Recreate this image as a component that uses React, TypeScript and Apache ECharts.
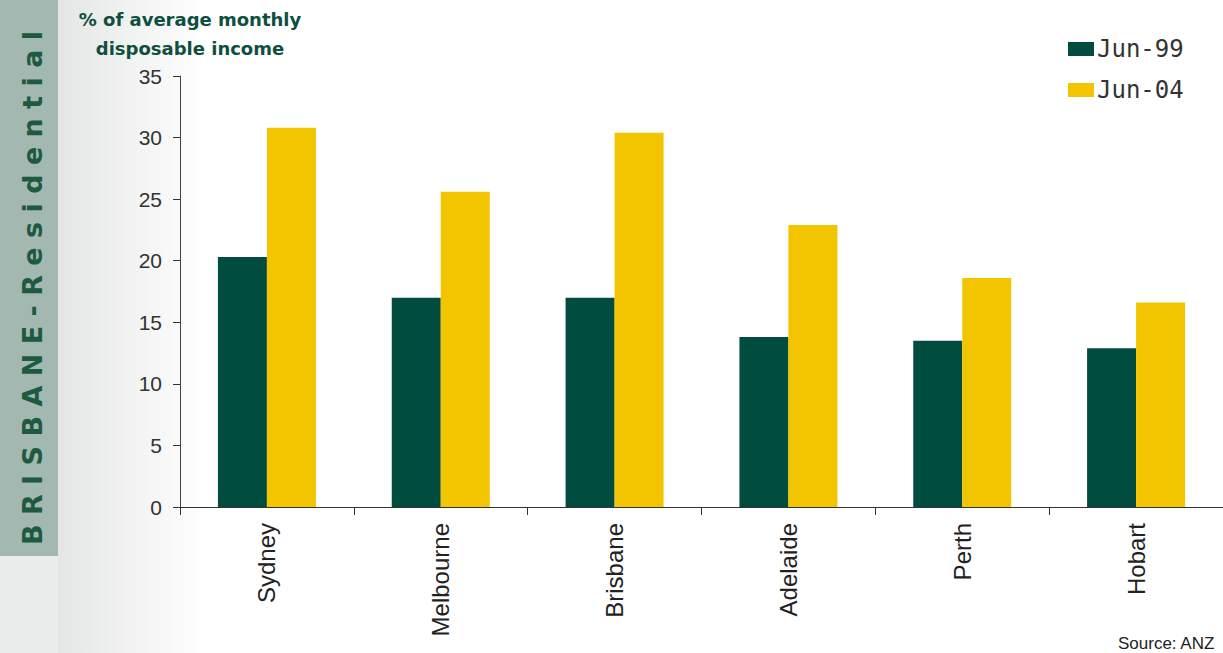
import React, { useEffect, useRef } from "react";
import * as echarts from "echarts";

const cities = ["Sydney", "Melbourne", "Brisbane", "Adelaide", "Perth", "Hobart"];
const jun99 = [20.3, 17.0, 17.0, 13.8, 13.5, 12.9];
const jun04 = [30.8, 25.6, 30.4, 22.9, 18.6, 16.6];
const seriesNames = ["Jun-99", "Jun-04"];
const yTitle = "% of average monthly\ndisposable income";
const sideLabel = "B R I S B A N E - R e s i d e n t i a l";
const sourceText = "Source: ANZ";

export default function App() {
  const ref = useRef<HTMLDivElement>(null);
  useEffect(() => {
    if (!ref.current) return;
    const chart = echarts.init(ref.current, null, { renderer: "svg" });
    const font = "'DejaVu Sans', Verdana, sans-serif";
    const arial = "'Liberation Sans', Arial, sans-serif";
    chart.setOption({
      animation: false,
      backgroundColor: "#ffffff",
      textStyle: { fontFamily: arial },
      graphic: [
        {
          type: "rect",
          silent: true,
          z: -10,
          shape: { x: 58, y: 0, width: 150, height: 653 },
          style: {
            fill: new echarts.graphic.LinearGradient(0, 0, 1, 0, [
              { offset: 0, color: "#e4e6e5" },
              { offset: 1, color: "#ffffff" },
            ]),
          },
        },
        {
          type: "rect",
          silent: true,
          z: -9,
          shape: { x: 0, y: 0, width: 58, height: 556 },
          style: { fill: "#a3b8b1" },
        },
        {
          type: "rect",
          silent: true,
          z: -9,
          shape: { x: 0, y: 556, width: 58, height: 97 },
          style: { fill: "#ebedec" },
        },
        {
          type: "text",
          x: 32,
          y: 288,
          rotation: Math.PI / 2,
          style: {
            text: sideLabel,
            fill: "#1d5a40",
            font: `bold 27px ${font}`,
            align: "center",
            verticalAlign: "middle",
          },
        },
        {
          type: "text",
          x: 190,
          y: 5,
          style: {
            text: yTitle,
            fill: "#0f4f40",
            font: `bold 18px ${font}`,
            align: "center",
            lineHeight: 29,
          },
        },
        {
          type: "text",
          x: 1118,
          y: 635,
          style: {
            text: sourceText,
            fill: "#222222",
            font: `17px ${arial}`,
          },
        },
      ],
      legend: {
        orient: "vertical",
        left: 1068,
        top: 37,
        padding: 0,
        itemWidth: 26,
        itemHeight: 14,
        itemGap: 17,
        icon: "rect",
        textStyle: {
          fontSize: 24,
          color: "#333333",
          fontFamily: "'DejaVu Sans Mono', monospace",
          padding: [0, 0, 0, -2],
        },
        data: seriesNames,
      },
      grid: { left: 180, top: 76, bottom: 146, right: -7, containLabel: false },
      xAxis: {
        type: "category",
        data: cities,
        axisLine: { lineStyle: { color: "#333333", width: 1 } },
        axisTick: { show: true, length: 8, lineStyle: { color: "#333333" } },
        axisLabel: {
          rotate: 90,
          fontSize: 24,
          color: "#222222",
          margin: 16,
          fontFamily: arial,
        },
      },
      yAxis: {
        type: "value",
        min: 0,
        max: 35,
        interval: 5,
        axisLine: { show: true, lineStyle: { color: "#444444", width: 1 } },
        axisTick: { show: true, length: 7, lineStyle: { color: "#333333" } },
        splitLine: { show: false },
        axisLabel: { fontSize: 21, color: "#333333", margin: 18, fontFamily: arial },
      },
      series: [
        {
          name: seriesNames[0],
          type: "bar",
          data: jun99,
          barWidth: 49,
          barGap: "0%",
          itemStyle: { color: "#004d40" },
        },
        {
          name: seriesNames[1],
          type: "bar",
          data: jun04,
          barWidth: 49,
          barGap: "0%",
          itemStyle: { color: "#f2c500" },
        },
      ],
    });
    return () => chart.dispose();
  }, []);
  return (
    <div
      ref={ref}
      style={{ position: "absolute", left: 0, top: 0, width: 1223, height: 653 }}
    />
  );
}
